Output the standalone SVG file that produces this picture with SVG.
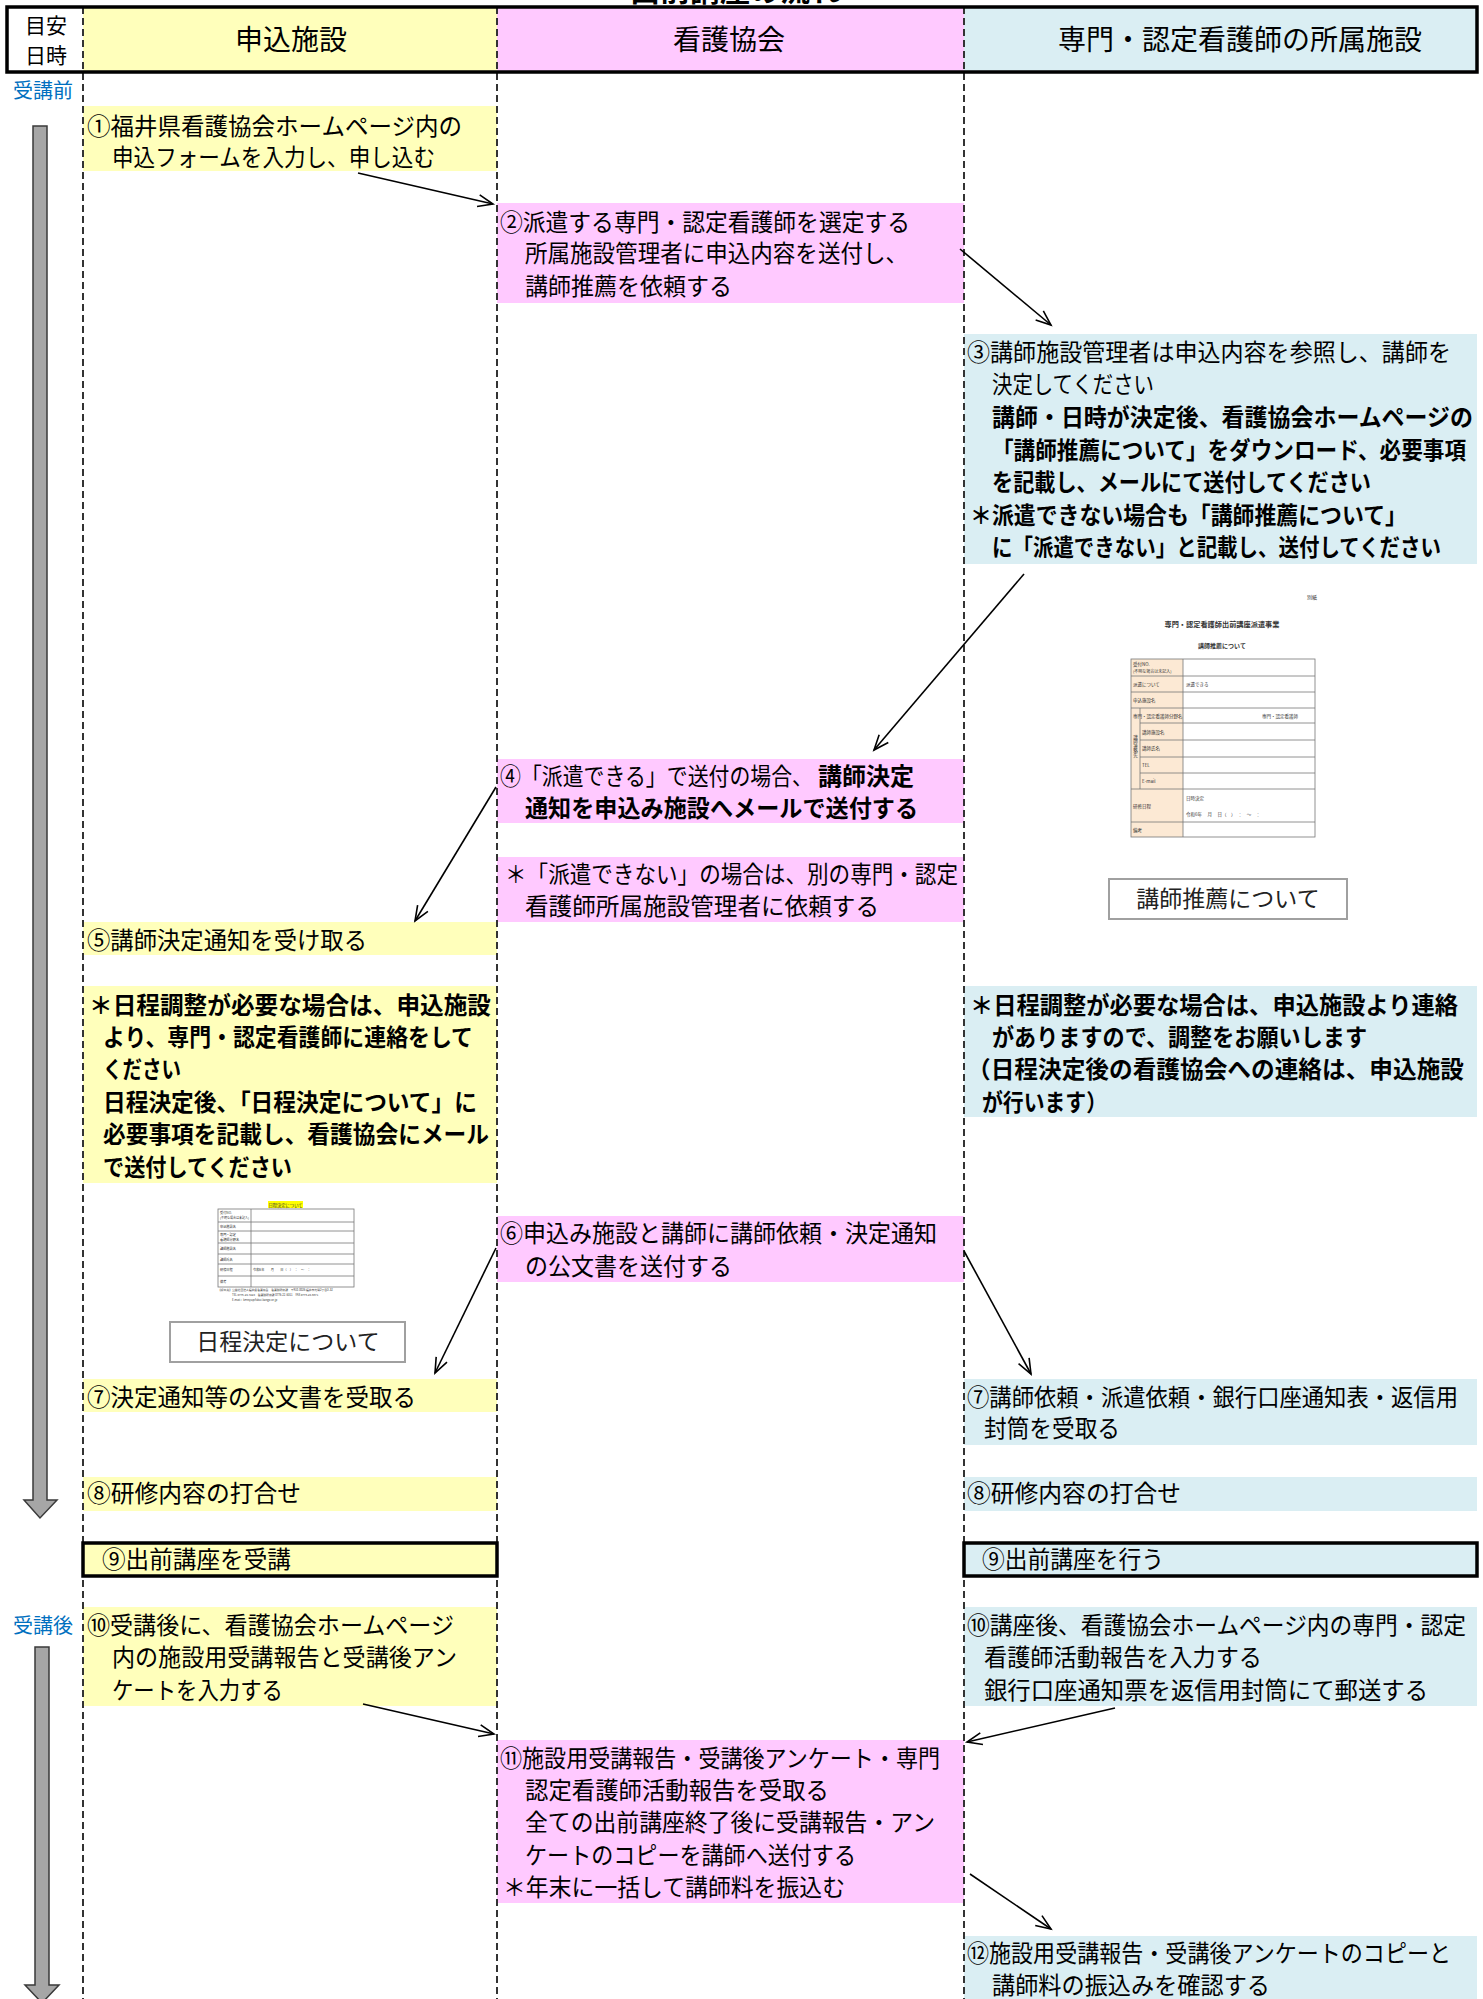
<svg xmlns="http://www.w3.org/2000/svg" width="1483" height="1999" viewBox="0 0 1483 1999">
<defs>
<style>
.t{font-family:"Noto Sans CJK JP","Noto Sans",sans-serif;font-size:23.5px;fill:#000}
.b{font-weight:bold}
.h{font-family:"Noto Sans CJK JP",sans-serif;font-size:28px;fill:#000;text-anchor:middle}
.s{font-family:"Noto Sans CJK JP",sans-serif;font-size:20px;fill:#0070C0}
.y{fill:#FFFFBB}
.p{fill:#FFC9FF}
.c{fill:#DAEEF3}
.lane{stroke:#333;stroke-width:2;stroke-dasharray:7 4;fill:none}
.conn{stroke:#000;stroke-width:1.6;fill:none;marker-end:url(#ah)}
.garrow{fill:#A6A6A6;stroke:#3a3a3a;stroke-width:1.5}
.ft{font-family:"Noto Sans CJK JP",sans-serif;fill:#333}
.fc{fill:#FCE9D4;stroke:none}
.fl{stroke:#777;stroke-width:0.8;fill:none}
.lab{fill:#fff;stroke:#A0A0A0;stroke-width:2}
.labt{font-family:"Noto Sans CJK JP",sans-serif;font-size:23px;fill:#222;text-anchor:middle}
</style>
<marker id="ah" markerUnits="userSpaceOnUse" markerWidth="18" markerHeight="14" refX="15" refY="6" orient="auto" overflow="visible">
<path d="M0,0 L15,6 L0,12" fill="none" stroke="#000" stroke-width="1.6"/>
</marker>
</defs>
<rect width="1483" height="1999" fill="#fff"/>

<text x="735" y="1" font-family="Noto Sans CJK JP, sans-serif" font-size="30" font-weight="bold" text-anchor="middle">出前講座の流れ</text>

<g id="header">
<rect x="7" y="7" width="76" height="65" fill="#fff"/>
<rect x="83" y="7" width="414" height="65" class="y"/>
<rect x="497" y="7" width="467" height="65" class="p"/>
<rect x="964" y="7" width="513" height="65" class="c"/>
<text x="46" y="33" font-family="Noto Sans CJK JP, sans-serif" font-size="21" text-anchor="middle">目安</text>
<text x="46" y="63" font-family="Noto Sans CJK JP, sans-serif" font-size="21" text-anchor="middle">日時</text>
<text class="h" x="291" y="50">申込施設</text>
<text class="h" x="729" y="50">看護協会</text>
<text class="h" x="1240" y="50">専門・認定看護師の所属施設</text>
</g>

<g id="timeline">
<text class="s" x="13" y="98">受講前</text>
<polygon class="garrow" points="33,126 47,126 47,1500 57,1500 40,1518 24,1500 33,1500"/>
<text class="s" x="13" y="1633">受講後</text>
<polygon class="garrow" points="35,1647 49,1647 49,1985 59,1985 42,2003 25,1985 35,1985"/>
</g>

<g id="n1">
<rect x="83" y="106" width="414" height="65" class="y"/>
<text class="t" x="87" y="135" textLength="375" lengthAdjust="spacingAndGlyphs">①福井県看護協会ホームページ内の</text>
<text class="t" x="112" y="166" textLength="323" lengthAdjust="spacingAndGlyphs">申込フォームを入力し、申し込む</text>
</g>

<g id="n2">
<rect x="497" y="203" width="467" height="100" class="p"/>
<text class="t" x="500" y="231" textLength="410" lengthAdjust="spacingAndGlyphs">②派遣する専門・認定看護師を選定する</text>
<text class="t" x="525" y="262" textLength="383" lengthAdjust="spacingAndGlyphs">所属施設管理者に申込内容を送付し、</text>
<text class="t" x="525" y="295" textLength="207" lengthAdjust="spacingAndGlyphs">講師推薦を依頼する</text>
</g>

<g id="n3">
<rect x="964" y="334" width="513" height="230" class="c"/>
<text class="t" x="967" y="361" textLength="484" lengthAdjust="spacingAndGlyphs">③講師施設管理者は申込内容を参照し、講師を</text>
<text class="t" x="992" y="393" textLength="162" lengthAdjust="spacingAndGlyphs">決定してください</text>
<text class="t b" x="992" y="426" font-size="22.5" textLength="481" lengthAdjust="spacingAndGlyphs">講師・日時が決定後、看護協会ホームページの</text>
<text class="t b" x="992" y="459" font-size="21" textLength="474" lengthAdjust="spacingAndGlyphs">「講師推薦について」をダウンロード、必要事項</text>
<text class="t b" x="992" y="491" textLength="379" lengthAdjust="spacingAndGlyphs">を記載し、メールにて送付してください</text>
<text class="t b" x="970" y="524" textLength="437" lengthAdjust="spacingAndGlyphs">＊派遣できない場合も「講師推薦について」</text>
<text class="t b" x="992" y="556" font-size="21" textLength="449" lengthAdjust="spacingAndGlyphs">に「派遣できない」と記載し、送付してください</text>
</g>

<g id="form1">
<text class="ft" x="1312" y="599" font-size="5" text-anchor="middle">別紙</text>
<text class="ft" x="1222" y="627" font-size="7.2" font-weight="bold" text-anchor="middle">専門・認定看護師出前講座派遣事業</text>
<text class="ft" x="1222" y="648" font-size="6" font-weight="bold" text-anchor="middle">講師推薦について</text>
<rect x="1131" y="659" width="52" height="178" class="fc"/>
<rect x="1131" y="659" width="184" height="178" class="fl"/>
<path class="fl" d="M1183,659 V837 M1131,676 H1315 M1131,692 H1315 M1131,708 H1315 M1140,723 H1315 M1140,740 H1315 M1140,757 H1315 M1140,773 H1315 M1131,789 H1315 M1131,822 H1315 M1140,708 V789"/>
<text class="ft" font-size="4.5" x="1133" y="666">受付NO.</text>
<text class="ft" font-size="4" x="1133" y="673">(不明な場合は未記入)</text>
<text class="ft" font-size="4.5" x="1133" y="686">派遣について</text>
<text class="ft" font-size="4.5" x="1186" y="686">派遣できる</text>
<text class="ft" font-size="4.5" x="1133" y="702">申込施設名</text>
<text class="ft" font-size="4.5" x="1133" y="718">専門・認定看護師分野名</text>
<text class="ft" font-size="4.5" x="1262" y="718">専門・認定看護師</text>
<text class="ft" font-size="4.5" x="1142" y="734">講師施設名</text>
<text class="ft" font-size="4.5" x="1142" y="750">講師氏名</text>
<text class="ft" font-size="4.5" x="1142" y="767">TEL</text>
<text class="ft" font-size="4.5" x="1142" y="783">E-mail</text>
<text class="ft" font-size="4.5" x="1135.5" y="735" style="writing-mode:vertical-rl">講師連絡先</text>
<text class="ft" font-size="4.5" x="1133" y="808">研修日程</text>
<text class="ft" font-size="4.5" x="1186" y="800">日時決定</text>
<text class="ft" font-size="4.5" x="1186" y="816">令和6年　 月　 日（　）　：　～　：</text>
<text class="ft" font-size="4.5" x="1133" y="832">備考</text>
</g>
<g id="label1">
<rect x="1109" y="879" width="238" height="40" class="lab"/>
<text class="labt" x="1228" y="907">講師推薦について</text>
</g>

<g id="n4">
<rect x="497" y="759" width="467" height="64" class="p"/>
<text class="t" x="500" y="785" textLength="313" lengthAdjust="spacingAndGlyphs">④「派遣できる」で送付の場合、</text>
<text class="t b" x="818" y="785" textLength="96" lengthAdjust="spacingAndGlyphs">講師決定</text>
<text class="t b" x="525" y="817" textLength="393" lengthAdjust="spacingAndGlyphs">通知を申込み施設へメールで送付する</text>
</g>

<g id="n4b">
<rect x="497" y="857" width="467" height="65" class="p"/>
<text class="t" x="505" y="883" font-size="22" textLength="453" lengthAdjust="spacingAndGlyphs">＊「派遣できない」の場合は、別の専門・認定</text>
<text class="t" x="525" y="915" font-size="22.5" textLength="354" lengthAdjust="spacingAndGlyphs">看護師所属施設管理者に依頼する</text>
</g>

<g id="n5">
<rect x="83" y="922" width="414" height="33" class="y"/>
<text class="t" x="87" y="949" textLength="280" lengthAdjust="spacingAndGlyphs">⑤講師決定通知を受け取る</text>
</g>

<g id="n5a">
<rect x="83" y="986" width="414" height="197" class="y"/>
<text class="t b" x="89" y="1014" textLength="402" lengthAdjust="spacingAndGlyphs">＊日程調整が必要な場合は、申込施設</text>
<text class="t b" x="103" y="1046" textLength="370" lengthAdjust="spacingAndGlyphs">より、専門・認定看護師に連絡をして</text>
<text class="t b" x="103" y="1078" textLength="78" lengthAdjust="spacingAndGlyphs">ください</text>
<text class="t b" x="103" y="1111" textLength="374" lengthAdjust="spacingAndGlyphs">日程決定後、「日程決定について」に</text>
<text class="t b" x="103" y="1143" textLength="386" lengthAdjust="spacingAndGlyphs">必要事項を記載し、看護協会にメール</text>
<text class="t b" x="103" y="1176" textLength="189" lengthAdjust="spacingAndGlyphs">で送付してください</text>
</g>

<g id="n5b">
<rect x="964" y="986" width="513" height="131" class="c"/>
<text class="t b" x="970" y="1014" textLength="488" lengthAdjust="spacingAndGlyphs">＊日程調整が必要な場合は、申込施設より連絡</text>
<text class="t b" x="992" y="1046" textLength="375" lengthAdjust="spacingAndGlyphs">がありますので、調整をお願いします</text>
<text class="t b" x="967" y="1078" font-size="22.5" textLength="497" lengthAdjust="spacingAndGlyphs">（日程決定後の看護協会への連絡は、申込施設</text>
<text class="t b" x="982" y="1111" textLength="125" lengthAdjust="spacingAndGlyphs">が行います）</text>
</g>

<g id="form2">
<rect x="268" y="1201" width="35" height="7" fill="#FFFF00"/>
<text class="ft" x="285.5" y="1206.5" font-size="4.3" text-anchor="middle">日程決定について</text>
<rect x="218" y="1209" width="33" height="78" fill="#fff"/>
<rect x="218" y="1209" width="136" height="78" class="fl"/>
<path class="fl" d="M251,1209 V1287 M218,1222 H354 M218,1231 H354 M218,1243 H354 M218,1254 H354 M218,1264 H354 M218,1276 H354"/>
<text class="ft" font-size="3.2" x="220" y="1214">受付NO.</text>
<text class="ft" font-size="3" x="220" y="1219">(不明な場合は未記入)</text>
<text class="ft" font-size="3.2" x="220" y="1228">申込施設名</text>
<text class="ft" font-size="3.2" x="220" y="1236">専門・認定</text>
<text class="ft" font-size="3.2" x="220" y="1241">看護師分野名</text>
<text class="ft" font-size="3.2" x="220" y="1250">講師施設名</text>
<text class="ft" font-size="3.2" x="220" y="1261">講師氏名</text>
<text class="ft" font-size="3.2" x="220" y="1271">研修日程</text>
<text class="ft" font-size="3.2" x="253" y="1271">令和6年　　月　　日（　）　：　～　：</text>
<text class="ft" font-size="3.2" x="220" y="1283">備考</text>
<text class="ft" font-size="2.8" x="218" y="1291">【提出先】公益社団法人福井県看護協会　看護職研修課　〒910-0026 福井市光陽2丁目3-32</text>
<text class="ft" font-size="2.8" x="232" y="1296">TEL 0776-24-7228　看護職研修課 0776-22-6311　FAX 0776-24-5671</text>
<text class="ft" font-size="2.8" x="232" y="1301">E-mail：kensyu@fukui-kango.or.jp</text>
</g>
<g id="label2">
<rect x="170" y="1322" width="235" height="40" class="lab"/>
<text class="labt" x="288" y="1350">日程決定について</text>
</g>

<g id="n6">
<rect x="497" y="1216" width="467" height="66" class="p"/>
<text class="t" x="500" y="1242" textLength="437" lengthAdjust="spacingAndGlyphs">⑥申込み施設と講師に講師依頼・決定通知</text>
<text class="t" x="525" y="1275" textLength="207" lengthAdjust="spacingAndGlyphs">の公文書を送付する</text>
</g>

<g id="n7a">
<rect x="83" y="1379" width="414" height="33" class="y"/>
<text class="t" x="87" y="1406" textLength="329" lengthAdjust="spacingAndGlyphs">⑦決定通知等の公文書を受取る</text>
</g>
<g id="n7b">
<rect x="964" y="1379" width="513" height="66" class="c"/>
<text class="t" x="967" y="1406" textLength="491" lengthAdjust="spacingAndGlyphs">⑦講師依頼・派遣依頼・銀行口座通知表・返信用</text>
<text class="t" x="984" y="1437" textLength="136" lengthAdjust="spacingAndGlyphs">封筒を受取る</text>
</g>

<g id="n8a">
<rect x="83" y="1477" width="414" height="34" class="y"/>
<text class="t" x="87" y="1502" textLength="214" lengthAdjust="spacingAndGlyphs">⑧研修内容の打合せ</text>
</g>
<g id="n8b">
<rect x="964" y="1477" width="513" height="34" class="c"/>
<text class="t" x="967" y="1502" textLength="214" lengthAdjust="spacingAndGlyphs">⑧研修内容の打合せ</text>
</g>

<g id="n10a">
<rect x="83" y="1607" width="414" height="99" class="y"/>
<text class="t" x="87" y="1634" textLength="367" lengthAdjust="spacingAndGlyphs">⑩受講後に、看護協会ホームページ</text>
<text class="t" x="112" y="1666" textLength="345" lengthAdjust="spacingAndGlyphs">内の施設用受講報告と受講後アン</text>
<text class="t" x="112" y="1699" textLength="171" lengthAdjust="spacingAndGlyphs">ケートを入力する</text>
</g>
<g id="n10b">
<rect x="964" y="1607" width="513" height="99" class="c"/>
<text class="t" x="967" y="1634" font-size="22.5" textLength="499" lengthAdjust="spacingAndGlyphs">⑩講座後、看護協会ホームページ内の専門・認定</text>
<text class="t" x="984" y="1666" textLength="278" lengthAdjust="spacingAndGlyphs">看護師活動報告を入力する</text>
<text class="t" x="984" y="1699" textLength="444" lengthAdjust="spacingAndGlyphs">銀行口座通知票を返信用封筒にて郵送する</text>
</g>

<g id="n11">
<rect x="497" y="1740" width="467" height="163" class="p"/>
<text class="t" x="500" y="1767" textLength="440" lengthAdjust="spacingAndGlyphs">⑪施設用受講報告・受講後アンケート・専門</text>
<text class="t" x="525" y="1799" textLength="304" lengthAdjust="spacingAndGlyphs">認定看護師活動報告を受取る</text>
<text class="t" x="525" y="1831" textLength="410" lengthAdjust="spacingAndGlyphs">全ての出前講座終了後に受講報告・アン</text>
<text class="t" x="525" y="1864" textLength="331" lengthAdjust="spacingAndGlyphs">ケートのコピーを講師へ送付する</text>
<text class="t" x="503" y="1896" textLength="342" lengthAdjust="spacingAndGlyphs">＊年末に一括して講師料を振込む</text>
</g>

<g id="n12">
<rect x="964" y="1936" width="513" height="63" class="c"/>
<text class="t" x="967" y="1962" font-size="22.5" textLength="484" lengthAdjust="spacingAndGlyphs">⑫施設用受講報告・受講後アンケートのコピーと</text>
<text class="t" x="992" y="1994" textLength="278" lengthAdjust="spacingAndGlyphs">講師料の振込みを確認する</text>
</g>

<g id="lanes">
<line class="lane" x1="83" y1="7" x2="83" y2="1999"/>
<line class="lane" x1="497" y1="7" x2="497" y2="1999"/>
<line class="lane" x1="964" y1="7" x2="964" y2="1999"/>
</g>

<g id="n9a">
<rect x="83" y="1543" width="414" height="33" class="y" stroke="#000" stroke-width="3.5"/>
<text class="t" x="102" y="1568" textLength="189" lengthAdjust="spacingAndGlyphs">⑨出前講座を受講</text>
</g>
<g id="n9b">
<rect x="964" y="1543" width="513" height="33" class="c" stroke="#000" stroke-width="3.5"/>
<text class="t" x="982" y="1568" textLength="182" lengthAdjust="spacingAndGlyphs">⑨出前講座を行う</text>
</g>

<rect x="7" y="7" width="1470" height="65" fill="none" stroke="#000" stroke-width="3.5"/>

<g id="connectors">
<line class="conn" x1="358" y1="173" x2="493" y2="204"/>
<line class="conn" x1="960" y1="249" x2="1051" y2="325"/>
<line class="conn" x1="1024" y1="574" x2="874" y2="750"/>
<line class="conn" x1="496" y1="787" x2="415" y2="921"/>
<line class="conn" x1="496" y1="1248" x2="435" y2="1373"/>
<line class="conn" x1="964" y1="1251" x2="1031" y2="1374"/>
<line class="conn" x1="363" y1="1704" x2="494" y2="1734"/>
<line class="conn" x1="1115" y1="1708" x2="967" y2="1742"/>
<line class="conn" x1="970" y1="1874" x2="1051" y2="1929"/>
</g>
</svg>
